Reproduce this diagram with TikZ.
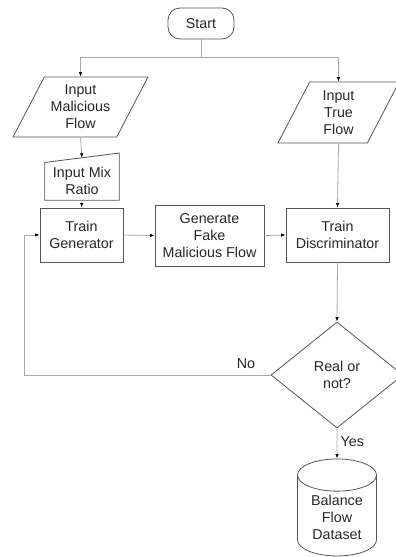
\documentclass[tikz,border=0pt]{standalone}
\usepackage{fontspec}
\setmainfont{Liberation Sans}
\usetikzlibrary{shapes.geometric,arrows.meta}

\definecolor{linegray}{HTML}{A8A8A8}
\definecolor{shapegray}{HTML}{555555}
\definecolor{textgray}{HTML}{262626}

\tikzset{
  box/.style={draw=shapegray, line width=0.8pt, align=center, inner sep=1pt, text=textgray},
  io/.style={box, trapezium, trapezium stretches=true},
  flow/.style={draw=linegray, line width=0.8pt, -{Latex[length=4.5pt,width=3.5pt,black]}},
  plain/.style={draw=linegray, line width=0.8pt}
}

\begin{document}
\begin{tikzpicture}[x=1pt,y=-1pt,font=\fontsize{14.3}{17}\selectfont]
\useasboundingbox (0,0) rectangle (396,557);

\node[box, rounded corners=12pt, minimum width=66, minimum height=31] (start) at (201,23.5) {Start};
\node[io, trapezium left angle=60, trapezium right angle=120, minimum width=135, minimum height=60] (inmal) at (80.5,107) {Input\\Malicious\\Flow};
\node[io, trapezium left angle=68, trapezium right angle=112, minimum width=122, minimum height=61] (intrue) at (338.5,112.5) {Input\\True\\Flow};

% manual input, top edge drawn sloped
\node[align=center, inner sep=1pt, text=textgray, minimum width=74, minimum height=37.3] (mix) at (82,181.3) {Input Mix\\Ratio};
\draw[shapegray, line width=0.8pt] (mix.south west) -- (mix.south east) -- ([yshift=9.4pt]mix.north east) -- (mix.north west) -- cycle;

\node[box, minimum width=83, minimum height=54] (tg) at (81.5,235) {Train\\Generator};
\node[box, minimum width=109, minimum height=61] (gf) at (209.5,235.5) {Generate\\Fake\\Malicious Flow};
\node[box, minimum width=103, minimum height=54] (td) at (337.5,235) {Train\\Discriminator};
\node[box, diamond, aspect=1.245, inner sep=0pt, minimum width=132, minimum height=106] (dec) at (337,375) {Real or\\not?};
\node[box, cylinder, shape border rotate=90, aspect=0.6, minimum width=79, minimum height=97] (db) at (337,517.5) {Balance\\Flow\\Dataset};

\draw[plain] (start.south) -- ++(0,18) coordinate (split);
\draw[flow] (split) -| (inmal.north);
\draw[flow] (split) -| (intrue.north);
\draw[flow] (inmal.south) -- ([yshift=4.6pt]mix.north);
\draw[flow] (mix.south) -- (tg.north);
\draw[flow] (tg.east) -- (gf.west);
\draw[flow] (gf.east) -- (td.west);
\draw[flow] (intrue.south) -- (td.north);
\draw[flow] (td.south) -- (dec.north);
\draw[flow] (dec.west) -| ([xshift=-15pt]tg.west) node[pos=0.05, above, yshift=3pt, text=textgray] {No} -- (tg.west);
\draw[flow] (dec.south) -- (db.north) node[pos=0.45, right, text=textgray] {Yes};
\end{tikzpicture}
\end{document}
